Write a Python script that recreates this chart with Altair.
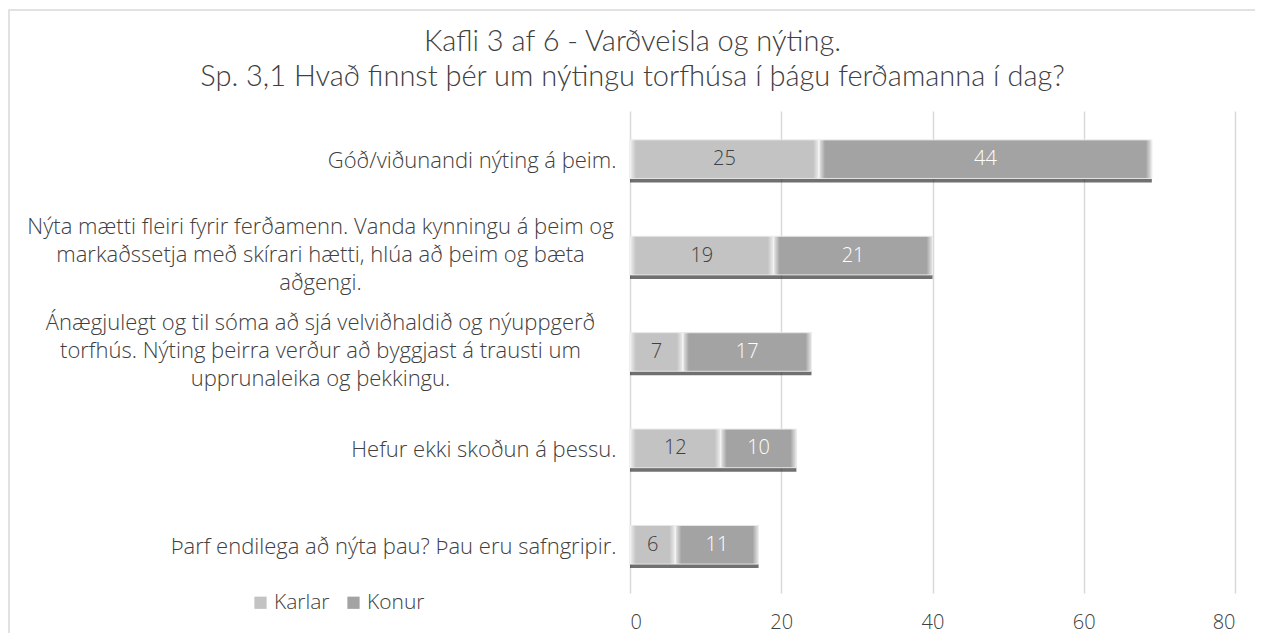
import altair as alt
import pandas as pd

categories = [
    "Góð/viðunandi nýting á þeim.",
    "Nýta mætti fleiri fyrir ferðamenn. Vanda kynningu á þeim og|markaðssetja með skírari hætti, hlúa að þeim og bæta|aðgengi.",
    "Ánægjulegt og til sóma að sjá velviðhaldið og nýuppgerð|torfhús. Nýting þeirra verður að byggjast á trausti um|upprunaleika og þekkingu.",
    "Hefur ekki skoðun á þessu.",
    "Þarf endilega að nýta þau? Þau eru safngripir.",
]
karlar = [25, 19, 7, 12, 6]
konur = [44, 21, 17, 10, 11]
series = ["Karlar", "Konur"]
x_ticks = [0, 20, 40, 60, 80]

rows = []
for c, k, w in zip(categories, karlar, konur):
    rows.append({"cat": c, "series": "Karlar", "value": k, "start": 0, "end": k})
    rows.append({"cat": c, "series": "Konur", "value": w, "start": k, "end": k + w})
df = pd.DataFrame(rows)
df["mid"] = (df["start"] + df["end"]) / 2
tot = pd.DataFrame({"cat": categories, "total": [a + b for a, b in zip(karlar, konur)]})

FONT = "Open Sans"
W, H = 605, 482
TXT = "#404040"

yscale = alt.Scale(domain=categories, paddingInner=0.6, paddingOuter=0.3)
xscale = alt.Scale(domain=[0, 80], nice=False)

multi = "indexof(datum.value, '|') >= 0"
y_enc = alt.Y(
    "cat:N",
    scale=yscale,
    sort=None,
    title=None,
    axis=alt.Axis(
        labelExpr="split(datum.value, '|')",
        labelAlign={"condition": {"test": multi, "value": "center"}, "value": "right"},
        labelPadding={"condition": {"test": multi, "value": 310}, "value": 14},
        labelOffset={"condition": {"test": multi, "value": -29}, "value": 2},
        labelLineHeight=28,
        labelFontSize=22,
        labelFont=FONT,
        labelFontWeight=300,
        labelColor=TXT,
        labelLimit=800,
        ticks=False,
        tickSize=0,
        domain=False,
        grid=False,
    ),
)

x_axis = alt.Axis(
    values=x_ticks,
    grid=True,
    gridColor="#d9d9d9",
    gridWidth=1.5,
    ticks=False,
    domain=False,
    labelFontSize=20,
    labelFont=FONT,
    labelFontWeight=300,
    labelColor=TXT,
    labelPadding=19,
    title=None,
)

frame = alt.Chart(pd.DataFrame({"a": [0]})).mark_rect(
    fill=None, stroke="#d9d9d9", strokeWidth=1.5
).encode(
    x=alt.value(-621), x2=alt.value(660), y=alt.value(-101), y2=alt.value(H + 60)
)

shadow = alt.Chart(tot).mark_bar(color="#333333", opacity=0.7, yOffset=4).encode(
    x=alt.X("total:Q", scale=xscale, axis=x_axis),
    x2=alt.value(0),
    y=y_enc,
)

bars = alt.Chart(df).mark_bar(stroke="#e4e4e4", strokeWidth=1).encode(
    x=alt.X("start:Q", scale=xscale),
    x2="end:Q",
    y=alt.Y("cat:N", scale=yscale, sort=None),
    color=alt.Color(
        "series:N",
        scale=alt.Scale(domain=series, range=["#c3c3c3", "#a3a3a3"]),
        legend=alt.Legend(
            title=None,
            orient="none",
            legendX=-380,
            legendY=481,
            direction="horizontal",
            symbolType="square",
            symbolSize=150,
            symbolStrokeWidth=0,
            labelFontSize=21,
            labelFont=FONT,
            labelFontWeight=300,
            labelColor=TXT,
            columnPadding=13,
            labelOffset=3,
        ),
    ),
)

grad_l = alt.Gradient(
    gradient="linear", x1=0, x2=1, y1=0, y2=0,
    stops=[alt.GradientStop(color="rgba(255,255,255,0.75)", offset=0),
           alt.GradientStop(color="rgba(255,255,255,0)", offset=1)],
)
grad_r = alt.Gradient(
    gradient="linear", x1=0, x2=1, y1=0, y2=0,
    stops=[alt.GradientStop(color="rgba(255,255,255,0)", offset=0),
           alt.GradientStop(color="rgba(255,255,255,0.75)", offset=1)],
)
bevel_l = alt.Chart(df).mark_bar(color=grad_l, x2Offset=6).encode(
    x=alt.X("start:Q", scale=xscale),
    x2=alt.X2("start:Q"),
    y=alt.Y("cat:N", scale=yscale, sort=None),
)
bevel_r = alt.Chart(df).mark_bar(color=grad_r, xOffset=-6).encode(
    x=alt.X("end:Q", scale=xscale),
    x2=alt.X2("end:Q"),
    y=alt.Y("cat:N", scale=yscale, sort=None),
)

text = alt.Chart(df).mark_text(fontSize=20, font=FONT, fontWeight=300).encode(
    x=alt.X("mid:Q", scale=xscale),
    y=alt.Y("cat:N", scale=yscale, sort=None),
    text="value:Q",
    color=alt.Color("series:N", scale=alt.Scale(domain=series, range=[TXT, "#ffffff"]), legend=None),
)

chart = alt.layer(frame, shadow, bars, bevel_l, bevel_r, text).resolve_scale(color="independent").properties(
    width=W,
    height=H,
    autosize=alt.AutoSizeParams(type="none"),
    padding={"left": 622, "top": 103, "right": 20, "bottom": 40},
    title=alt.TitleParams(
        text=["Kafli 3 af 6 - Varðveisla og nýting.", "Sp. 3,1 Hvað finnst þér um nýtingu torfhúsa í þágu ferðamanna í dag?"],
        fontSize=29,
        font="Lato",
        fontWeight=300,
        color=TXT,
        anchor="middle",
        frame="bounds",
        lineHeight=35,
        offset=-83,
        dx=-17,
    ),
).configure_view(stroke=None)

chart.save("out.html", embed_options={"renderer": "svg", "actions": False})
